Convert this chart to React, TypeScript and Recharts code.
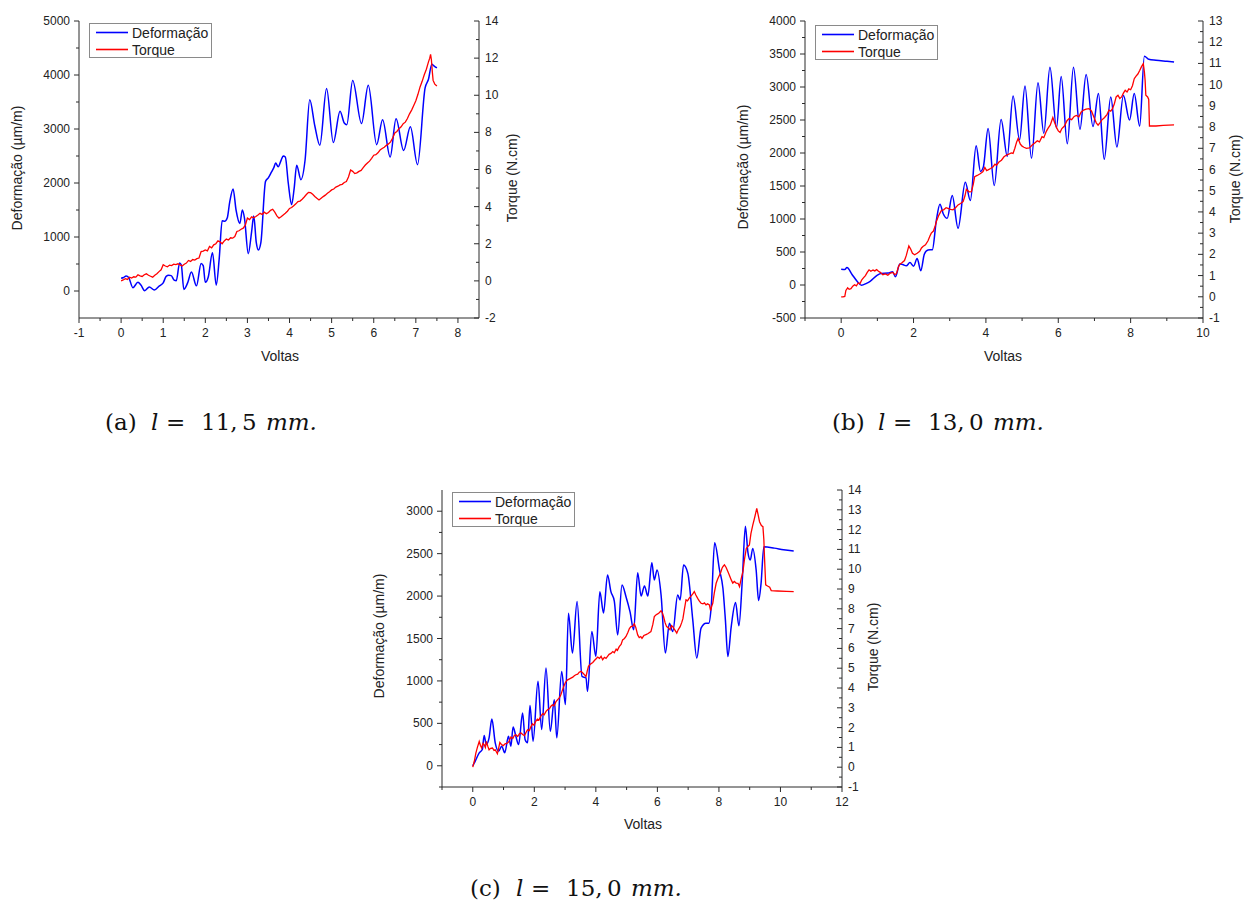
import React from 'react'
import { LineChart, Line, XAxis, YAxis } from 'recharts'

type Pt = [number, number]

const FONT = "'Liberation Sans', Arial, Helvetica, sans-serif"
const SERIF = "'DejaVu Serif', 'Liberation Serif', serif"
const AXIS = '#2a2a2a'
const BLUE = '#0000ff'
const RED = '#ff0000'

// ---------- (a) l = 11,5 mm ----------
const defA: Pt[] = [
  [0, 235], [0.06, 250], [0.12, 280], [0.18, 250], [0.28, 62], [0.4, 160], [0.47, 110], [0.56, 5],
  [0.67, 75], [0.79, 18], [0.91, 95], [1.0, 150], [1.07, 270], [1.13, 290], [1.19, 285], [1.26, 200],
  [1.31, 190], [1.39, 520], [1.43, 480], [1.49, 30], [1.58, 150], [1.67, 350], [1.79, 95], [1.9, 510],
  [1.95, 470], [2.0, 160], [2.07, 260], [2.17, 710], [2.26, 110], [2.33, 600], [2.4, 1300], [2.46, 1290],
  [2.52, 1350], [2.58, 1650], [2.66, 1890], [2.73, 1500], [2.82, 1250], [2.88, 1500], [2.93, 1350],
  [3.02, 690], [3.1, 1100], [3.15, 1390], [3.21, 900], [3.26, 760], [3.32, 900], [3.43, 2030], [3.5, 2100],
  [3.57, 2200], [3.63, 2290], [3.67, 2370], [3.73, 2300], [3.8, 2420], [3.85, 2500], [3.9, 2480],
  [3.97, 2000], [4.05, 1600], [4.11, 1900], [4.17, 2330], [4.27, 2060], [4.37, 2430], [4.48, 3540],
  [4.6, 3060], [4.72, 2700], [4.88, 3750], [5.04, 2750], [5.2, 3330], [5.3, 3110], [5.36, 3080],
  [5.5, 3900], [5.71, 3100], [5.87, 3810], [6.07, 2710], [6.21, 3170], [6.39, 2480], [6.53, 3190],
  [6.71, 2600], [6.87, 3040], [7.04, 2340], [7.22, 3760], [7.3, 3920], [7.38, 4200], [7.43, 4170],
  [7.5, 4130],
]
const torA: Pt[] = [
  [0, 0.0], [0.05, 0.05], [0.1, 0.12], [0.15, 0.08], [0.2, 0.2], [0.25, 0.15], [0.3, 0.22], [0.35, 0.2],
  [0.4, 0.33], [0.45, 0.27], [0.5, 0.24], [0.55, 0.33], [0.6, 0.38], [0.65, 0.3], [0.7, 0.25], [0.75, 0.2],
  [0.8, 0.3], [0.85, 0.38], [0.9, 0.5], [0.95, 0.6], [1.0, 0.87], [1.05, 0.8], [1.1, 0.76], [1.15, 0.85],
  [1.2, 0.82], [1.25, 0.9], [1.3, 0.88], [1.35, 0.92], [1.4, 0.86], [1.45, 0.8], [1.5, 0.9], [1.55, 0.96],
  [1.6, 1.1], [1.65, 1.05], [1.7, 1.15], [1.75, 1.12], [1.8, 1.2], [1.85, 1.23], [1.9, 1.58], [1.95, 1.6],
  [2.0, 1.67], [2.05, 1.62], [2.1, 1.85], [2.15, 1.78], [2.2, 1.94], [2.25, 2.0], [2.3, 2.16], [2.35, 2.1],
  [2.4, 2.0], [2.45, 2.15], [2.5, 2.25], [2.55, 2.2], [2.6, 2.32], [2.65, 2.3], [2.7, 2.39], [2.75, 2.66],
  [2.8, 2.7], [2.85, 2.78], [2.9, 2.84], [2.95, 3.0], [3.0, 3.38], [3.05, 3.3], [3.1, 3.45], [3.15, 3.4],
  [3.2, 3.47], [3.25, 3.55], [3.3, 3.64], [3.35, 3.58], [3.4, 3.7], [3.45, 3.62], [3.5, 3.68], [3.55, 3.8],
  [3.6, 3.86], [3.65, 3.7], [3.7, 3.5], [3.75, 3.38], [3.8, 3.45], [3.85, 3.55], [3.9, 3.64], [3.95, 3.75],
  [4.0, 3.9], [4.05, 3.95], [4.1, 4.05], [4.15, 4.15], [4.2, 4.27], [4.25, 4.3], [4.3, 4.4], [4.35, 4.52],
  [4.4, 4.65], [4.45, 4.77], [4.5, 4.75], [4.55, 4.67], [4.6, 4.55], [4.65, 4.45], [4.7, 4.36], [4.75, 4.45],
  [4.8, 4.54], [4.85, 4.62], [4.9, 4.72], [4.95, 4.8], [5.0, 4.9], [5.05, 4.95], [5.1, 5.05], [5.15, 5.1],
  [5.2, 5.17], [5.25, 5.2], [5.3, 5.3], [5.35, 5.35], [5.4, 5.6], [5.45, 5.97], [5.5, 5.9], [5.55, 5.78],
  [5.6, 5.82], [5.65, 5.9], [5.7, 5.95], [5.75, 6.1], [5.8, 6.24], [5.85, 6.35], [5.9, 6.45], [5.95, 6.6],
  [6.0, 6.77], [6.05, 6.8], [6.1, 6.9], [6.15, 7.05], [6.2, 7.13], [6.25, 7.2], [6.3, 7.3], [6.35, 7.38],
  [6.4, 7.49], [6.45, 7.7], [6.5, 7.97], [6.55, 8.05], [6.6, 8.2], [6.65, 8.3], [6.7, 8.47], [6.75, 8.55],
  [6.8, 8.75], [6.85, 9.0], [6.9, 9.2], [6.95, 9.45], [7.0, 9.7], [7.05, 10.05], [7.1, 10.45], [7.15, 10.75],
  [7.2, 11.1], [7.25, 11.4], [7.3, 11.8], [7.33, 12.0], [7.35, 12.2], [7.37, 11.9], [7.39, 11.3],
  [7.41, 10.8], [7.45, 10.6], [7.5, 10.5],
]
const voltasMajorA = [-1, 0, 1, 2, 3, 4, 5, 6, 7, 8]
const voltasMinorA = [-0.5, 0.5, 1.5, 2.5, 3.5, 4.5, 5.5, 6.5, 7.5]
const defMajorA = [0, 1000, 2000, 3000, 4000, 5000]
const defMinorA = [500, 1500, 2500, 3500, 4500]
const torMajorA = [-2, 0, 2, 4, 6, 8, 10, 12, 14]
const torMinorA = [-1, 1, 3, 5, 7, 9, 11, 13]

// ---------- (b) l = 13,0 mm ----------
const defB: Pt[] = [
  [0, 240], [0.1, 235], [0.16, 265], [0.3, 160], [0.45, 50], [0.56, -5], [0.7, 25], [0.8, 55], [1.0, 150],
  [1.1, 175], [1.3, 180], [1.42, 200], [1.5, 125], [1.62, 320], [1.7, 310], [1.8, 290], [1.9, 340],
  [2.0, 285], [2.1, 400], [2.2, 215], [2.3, 470], [2.4, 530], [2.52, 535], [2.63, 980], [2.73, 1225],
  [2.82, 1080], [2.93, 1010], [3.07, 1355], [3.23, 860], [3.43, 1555], [3.57, 1280], [3.73, 2110],
  [3.85, 1720], [3.93, 1790], [4.06, 2373], [4.23, 1506], [4.42, 2508], [4.59, 1950], [4.75, 2862],
  [4.93, 2200], [5.08, 3017], [5.26, 1920], [5.44, 3064], [5.6, 2300], [5.77, 3300], [5.95, 2380],
  [6.08, 3158], [6.25, 2140], [6.42, 3300], [6.6, 2358], [6.77, 3190], [6.96, 2400], [7.11, 2902],
  [7.27, 1904], [7.45, 2850], [7.62, 2090], [7.8, 2870], [7.97, 2499], [8.1, 2900], [8.25, 2408],
  [8.38, 3466], [8.5, 3420], [8.7, 3405], [9.0, 3390], [9.2, 3380],
]
const torB: Pt[] = [
  [0, 0], [0.05, 0], [0.1, 0.02], [0.13, 0.3], [0.18, 0.42], [0.22, 0.35], [0.27, 0.38], [0.32, 0.5],
  [0.37, 0.57], [0.42, 0.52], [0.47, 0.65], [0.52, 0.62], [0.57, 0.8], [0.62, 0.9], [0.67, 1.0],
  [0.72, 1.15], [0.77, 1.27], [0.82, 1.2], [0.88, 1.26], [0.93, 1.22], [0.98, 1.28], [1.03, 1.2],
  [1.08, 1.15], [1.15, 1.04], [1.22, 1.08], [1.29, 1.02], [1.36, 1.12], [1.43, 1.15], [1.48, 1.04],
  [1.53, 1.1], [1.58, 1.4], [1.62, 1.54], [1.68, 1.6], [1.75, 1.71], [1.8, 1.95], [1.87, 2.4], [1.92, 2.25],
  [1.97, 2.05], [2.03, 1.98], [2.1, 2.05], [2.17, 2.14], [2.22, 2.3], [2.26, 2.37], [2.33, 2.45], [2.4, 2.64],
  [2.45, 2.85], [2.49, 3.0], [2.55, 3.1], [2.6, 3.35], [2.63, 3.55], [2.7, 3.85], [2.77, 4.07], [2.83, 4.1],
  [2.9, 4.2], [2.95, 4.17], [3.02, 4.12], [3.09, 4.1], [3.16, 4.2], [3.23, 4.33], [3.3, 4.4], [3.37, 4.49],
  [3.42, 4.75], [3.46, 5.07], [3.53, 4.95], [3.6, 4.96], [3.65, 5.3], [3.69, 5.66], [3.76, 5.72],
  [3.83, 5.79], [3.88, 5.85], [3.92, 5.9], [3.97, 6.1], [4.02, 5.95], [4.06, 5.98], [4.13, 6.05],
  [4.2, 6.13], [4.25, 6.25], [4.29, 6.2], [4.36, 6.35], [4.43, 6.44], [4.5, 6.6], [4.57, 6.68],
  [4.63, 6.72], [4.7, 6.78], [4.75, 6.76], [4.8, 7.0], [4.85, 7.3], [4.89, 7.46], [4.95, 7.2], [5.0, 7.1],
  [5.05, 7.05], [5.12, 7.0], [5.2, 7.02], [5.28, 7.15], [5.35, 7.25], [5.42, 7.35], [5.48, 7.3],
  [5.55, 7.55], [5.6, 7.5], [5.67, 7.8], [5.72, 7.95], [5.78, 8.1], [5.85, 8.45], [5.9, 8.2], [5.96, 7.95],
  [6.0, 7.82], [6.05, 7.75], [6.1, 7.93], [6.17, 8.05], [6.24, 8.3], [6.3, 8.4], [6.37, 8.35], [6.44, 8.5],
  [6.5, 8.55], [6.57, 8.48], [6.63, 8.7], [6.7, 8.8], [6.77, 8.85], [6.85, 8.87], [6.92, 8.75], [7.0, 8.4],
  [7.05, 8.2], [7.1, 8.09], [7.15, 8.2], [7.2, 8.33], [7.28, 8.45], [7.35, 8.6], [7.4, 8.8], [7.45, 8.75],
  [7.5, 8.87], [7.55, 9.1], [7.6, 9.42], [7.65, 9.5], [7.7, 9.35], [7.75, 9.42], [7.8, 9.6], [7.85, 9.73],
  [7.9, 9.65], [7.95, 9.8], [8.0, 9.76], [8.05, 9.95], [8.1, 10.28], [8.15, 10.4], [8.2, 10.5],
  [8.25, 10.67], [8.3, 10.85], [8.35, 10.99], [8.38, 10.6], [8.4, 10.2], [8.42, 9.5], [8.47, 9.42],
  [8.5, 9.3], [8.52, 8.05], [8.7, 8.05], [8.9, 8.08], [9.2, 8.1],
]
const voltasMajorB = [0, 2, 4, 6, 8, 10]
const voltasMinorB = [-1, 1, 3, 5, 7, 9]
const defMajorB = [-500, 0, 500, 1000, 1500, 2000, 2500, 3000, 3500, 4000]
const defMinorB = [-250, 250, 750, 1250, 1750, 2250, 2750, 3250, 3750]
const torMajorB = [-1, 0, 1, 2, 3, 4, 5, 6, 7, 8, 9, 10, 11, 12, 13]
const torMinorB = [-0.5, 0.5, 1.5, 2.5, 3.5, 4.5, 5.5, 6.5, 7.5, 8.5, 9.5, 10.5, 11.5, 12.5]

// ---------- (c) l = 15,0 mm ----------
const defC: Pt[] = [
  [0, 0], [0.08, 55], [0.21, 153], [0.31, 192], [0.37, 356], [0.44, 250], [0.53, 329], [0.62, 552],
  [0.73, 270], [0.84, 172], [0.94, 231], [1.04, 153], [1.16, 349], [1.24, 231], [1.31, 458], [1.4, 349],
  [1.49, 250], [1.62, 623], [1.7, 309], [1.78, 270], [1.86, 709], [1.96, 290], [2.12, 995], [2.24, 427],
  [2.38, 1152], [2.52, 407], [2.65, 779], [2.73, 329], [2.89, 1112], [3.01, 721], [3.11, 1798],
  [3.24, 1328], [3.39, 1935], [3.55, 1054], [3.68, 1034], [3.73, 877], [3.87, 1582], [4.0, 1289],
  [4.13, 2050], [4.25, 1800], [4.38, 2248], [4.49, 2052], [4.6, 1940], [4.71, 1543], [4.85, 2130],
  [4.98, 1993], [5.11, 1817], [5.23, 1602], [5.36, 2276], [5.47, 2001], [5.58, 2119], [5.69, 2001],
  [5.82, 2393], [5.9, 2190], [5.99, 2307], [6.12, 2013], [6.26, 1328], [6.39, 1680], [6.5, 1582],
  [6.66, 2013], [6.74, 1955], [6.85, 2366], [6.99, 2268], [7.15, 1720], [7.28, 1269], [7.42, 1622],
  [7.58, 1680], [7.67, 1680], [7.75, 1876], [7.86, 2628], [8.02, 2307], [8.13, 2092], [8.21, 1720],
  [8.29, 1289], [8.4, 1641], [8.54, 1923], [8.65, 1649], [8.76, 2190], [8.86, 2824], [8.94, 2522],
  [9.02, 2425], [9.1, 2562], [9.21, 2307], [9.29, 1947], [9.37, 2150], [9.46, 2581], [9.8, 2565],
  [10.1, 2545], [10.43, 2530],
]
const torC: Pt[] = [
  [0, 0], [0.05, 0.3], [0.1, 0.71], [0.15, 1.0], [0.21, 1.3], [0.25, 1.1], [0.29, 0.97], [0.33, 1.2],
  [0.37, 1.14], [0.41, 1.0], [0.44, 1.3], [0.49, 1.05], [0.53, 0.88], [0.58, 0.95], [0.64, 0.97],
  [0.69, 0.85], [0.73, 0.88], [0.8, 0.68], [0.84, 0.95], [0.88, 1.25], [0.93, 1.15], [0.99, 1.09],
  [1.05, 1.18], [1.13, 1.22], [1.18, 1.3], [1.24, 1.52], [1.3, 1.45], [1.35, 1.6], [1.4, 1.64],
  [1.46, 1.55], [1.52, 1.7], [1.57, 1.73], [1.62, 1.65], [1.68, 1.6], [1.73, 1.75], [1.78, 1.89],
  [1.84, 1.85], [1.89, 2.05], [1.94, 2.19], [1.99, 2.12], [2.04, 2.3], [2.1, 2.43], [2.15, 2.38],
  [2.2, 2.55], [2.27, 2.7], [2.32, 2.65], [2.38, 2.82], [2.43, 2.9], [2.49, 2.95], [2.54, 3.08],
  [2.59, 3.15], [2.64, 3.1], [2.7, 3.3], [2.76, 3.41], [2.81, 3.5], [2.86, 3.65], [2.9, 3.83], [2.95, 4.05],
  [3.01, 4.28], [3.07, 4.4], [3.13, 4.45], [3.19, 4.5], [3.25, 4.55], [3.3, 4.62], [3.35, 4.67],
  [3.41, 4.7], [3.46, 4.8], [3.52, 4.84], [3.56, 4.78], [3.6, 4.72], [3.64, 4.65], [3.68, 4.58],
  [3.72, 4.85], [3.76, 5.09], [3.82, 5.2], [3.9, 5.29], [3.96, 5.4], [4.01, 5.48], [4.06, 5.56],
  [4.12, 5.5], [4.17, 5.6], [4.22, 5.43], [4.28, 5.55], [4.33, 5.5], [4.38, 5.6], [4.43, 5.7], [4.49, 5.75],
  [4.55, 5.84], [4.6, 5.78], [4.66, 5.96], [4.7, 5.9], [4.76, 6.09], [4.82, 6.2], [4.87, 6.43], [4.93, 6.5],
  [4.98, 6.6], [5.04, 6.8], [5.09, 7.0], [5.14, 7.1], [5.2, 7.12], [5.25, 7.25], [5.3, 7.05], [5.36, 6.68],
  [5.41, 6.55], [5.46, 6.6], [5.5, 6.51], [5.56, 6.65], [5.63, 6.7], [5.7, 6.75], [5.79, 6.85], [5.85, 7.2],
  [5.9, 7.61], [5.96, 7.7], [6.01, 7.74], [6.06, 7.8], [6.12, 7.9], [6.16, 7.8], [6.2, 7.61], [6.25, 7.3],
  [6.3, 7.1], [6.35, 7.05], [6.41, 6.94], [6.46, 7.15], [6.5, 7.1], [6.56, 6.95], [6.63, 6.77],
  [6.68, 6.95], [6.74, 7.1], [6.79, 7.3], [6.83, 7.5], [6.88, 8.0], [6.93, 8.45], [6.98, 8.4], [7.04, 8.55],
  [7.1, 8.65], [7.15, 8.75], [7.2, 8.87], [7.25, 8.7], [7.31, 8.53], [7.36, 8.4], [7.42, 8.28], [7.48, 8.25],
  [7.53, 8.3], [7.58, 8.2], [7.63, 8.25], [7.69, 8.2], [7.73, 7.91], [7.77, 8.15], [7.8, 8.28], [7.85, 8.8],
  [7.91, 9.29], [7.96, 9.5], [8.02, 9.71], [8.06, 9.85], [8.1, 10.05], [8.14, 10.15], [8.18, 10.22],
  [8.23, 10.1], [8.29, 9.88], [8.34, 9.7], [8.4, 9.46], [8.45, 9.3], [8.5, 9.38], [8.56, 9.3], [8.62, 9.29],
  [8.67, 9.12], [8.72, 9.5], [8.78, 9.88], [8.83, 10.5], [8.89, 11.05], [8.94, 11.15], [8.99, 11.22],
  [9.04, 11.8], [9.1, 12.23], [9.16, 12.6], [9.23, 13.07], [9.28, 12.7], [9.32, 12.4], [9.38, 12.2],
  [9.43, 12.15], [9.46, 11.5], [9.48, 10.64], [9.52, 9.21], [9.58, 9.15], [9.65, 9.09], [9.7, 8.92],
  [9.9, 8.9], [10.2, 8.88], [10.43, 8.87],
]
const voltasMajorC = [0, 2, 4, 6, 8, 10, 12]
const voltasMinorC = [-1, 1, 3, 5, 7, 9, 11]
const defMajorC = [0, 500, 1000, 1500, 2000, 2500, 3000]
const defMinorC = [-250, 250, 750, 1250, 1750, 2250, 2750]
const torMajorC = [-1, 0, 1, 2, 3, 4, 5, 6, 7, 8, 9, 10, 11, 12, 13, 14]
const torMinorC = [-0.5, 0.5, 1.5, 2.5, 3.5, 4.5, 5.5, 6.5, 7.5, 8.5, 9.5, 10.5, 11.5, 12.5, 13.5]

const toRows = (pts: Pt[]) => pts.map(([x, y]) => ({ x, y }))
const merge = (a: number[], b: number[]) => [...a, ...b].sort((p, q) => p - q)

const tickText = { fontFamily: FONT, fontSize: 12, fill: '#222' }

function axisTick(side: 'left' | 'right' | 'bottom', major: number[]) {
  return (props: any) => {
    const { x, y, payload } = props
    const v = payload.value
    const isMajor = major.some((m) => Math.abs(m - v) < 1e-9)
    const len = isMajor ? 5 : 3
    if (side === 'bottom') {
      return (
        <g>
          <line x1={x} y1={y} x2={x} y2={y + len} stroke={AXIS} />
          {isMajor && (
            <text x={x} y={y + 15} textAnchor="middle" dominantBaseline="central" {...tickText}>
              {v}
            </text>
          )}
        </g>
      )
    }
    if (side === 'left') {
      return (
        <g>
          <line x1={x} y1={y} x2={x - len} y2={y} stroke={AXIS} />
          {isMajor && (
            <text x={x - 9} y={y} textAnchor="end" dominantBaseline="central" {...tickText}>
              {v}
            </text>
          )}
        </g>
      )
    }
    // right axis: ticks point inward
    return (
      <g>
        <line x1={x} y1={y} x2={x - len} y2={y} stroke={AXIS} />
        {isMajor && (
          <text x={x + 6} y={y} textAnchor="start" dominantBaseline="central" {...tickText}>
            {v}
          </text>
        )}
      </g>
    )
  }
}

type PanelProps = {
  plot: { left: number; top: number; w: number; h: number }
  xDomain: [number, number]
  xMajor: number[]
  xMinor: number[]
  lDomain: [number, number]
  lMajor: number[]
  lMinor: number[]
  rDomain: [number, number]
  rMajor: number[]
  rMinor: number[]
  def: Pt[]
  tor: Pt[]
  leftTitle: [number, number]
  rightTitle: [number, number]
  xTitle: [number, number]
  legend: [number, number]
}

const LW = 60
const RW = 45
const XH = 30
const TOP = 10

function Title({ text, at, rotate }: { text: string; at: [number, number]; rotate?: boolean }) {
  return (
    <div
      style={{
        position: 'absolute',
        left: at[0],
        top: at[1],
        transform: `translate(-50%, -50%)${rotate ? ' rotate(-90deg)' : ''}`,
        whiteSpace: 'nowrap',
        fontFamily: FONT,
        fontSize: 14,
        color: '#222',
        lineHeight: '16px',
      }}
    >
      {text}
    </div>
  )
}

function LegendBox({ at }: { at: [number, number] }) {
  return (
    <div
      style={{
        position: 'absolute',
        left: at[0],
        top: at[1],
        width: 123,
        height: 35,
        border: '1px solid #8a8a8a',
        boxSizing: 'border-box',
        background: '#fff',
      }}
    >
      <svg width={121} height={33} style={{ display: 'block' }}>
        <line x1={6} x2={38} y1={8.5} y2={8.5} stroke={BLUE} strokeWidth={1.6} />
        <line x1={6} x2={38} y1={25.5} y2={25.5} stroke={RED} strokeWidth={1.6} />
        <text x={42} y={9} dominantBaseline="central" fontFamily={FONT} fontSize={14} fill="#222">
          Deformação
        </text>
        <text x={42} y={26} dominantBaseline="central" fontFamily={FONT} fontSize={14} fill="#222">
          Torque
        </text>
      </svg>
    </div>
  )
}

function Panel(p: PanelProps) {
  const width = LW + p.plot.w + RW
  const height = TOP + p.plot.h + XH
  return (
    <>
      <div style={{ position: 'absolute', left: p.plot.left - LW, top: p.plot.top - TOP }}>
        <LineChart width={width} height={height} margin={{ top: TOP, right: 0, bottom: 0, left: 0 }}>
          <XAxis
            dataKey="x"
            type="number"
            domain={p.xDomain}
            ticks={merge(p.xMajor, p.xMinor)}
            interval={0}
            allowDataOverflow
            height={XH}
            tickSize={0}
            tickMargin={0}
            tickLine={false}
            axisLine={{ stroke: AXIS }}
            tick={axisTick('bottom', p.xMajor)}
          />
          <YAxis
            yAxisId="l"
            orientation="left"
            type="number"
            domain={p.lDomain}
            ticks={merge(p.lMajor, p.lMinor)}
            interval={0}
            allowDataOverflow
            width={LW}
            tickSize={0}
            tickMargin={0}
            tickLine={false}
            axisLine={{ stroke: AXIS }}
            tick={axisTick('left', p.lMajor)}
          />
          <YAxis
            yAxisId="r"
            orientation="right"
            type="number"
            domain={p.rDomain}
            ticks={merge(p.rMajor, p.rMinor)}
            interval={0}
            allowDataOverflow
            width={RW}
            tickSize={0}
            tickMargin={0}
            tickLine={false}
            axisLine={{ stroke: AXIS }}
            tick={axisTick('right', p.rMajor)}
          />
          <Line
            data={toRows(p.def)}
            dataKey="y"
            yAxisId="l"
            type="monotone"
            stroke={BLUE}
            strokeWidth={1.5}
            dot={false}
            activeDot={false}
            isAnimationActive={false}
          />
          <Line
            data={toRows(p.tor)}
            dataKey="y"
            yAxisId="r"
            type="linear"
            stroke={RED}
            strokeWidth={1.3}
            dot={false}
            activeDot={false}
            isAnimationActive={false}
          />
        </LineChart>
      </div>
      <Title text="Deformação (µm/m)" at={p.leftTitle} rotate />
      <Title text="Torque (N.cm)" at={p.rightTitle} rotate />
      <Title text="Voltas" at={p.xTitle} />
      <LegendBox at={p.legend} />
    </>
  )
}

function Caption({ x, y, tag, whole, dec }: { x: number; y: number; tag: string; whole: string; dec: string }) {
  const piece = (dx: number, text: string, italic = false) => (
    <span
      style={{
        position: 'absolute',
        left: x + dx,
        top: y - 14,
        lineHeight: '28px',
        fontFamily: SERIF,
        fontSize: 23,
        fontStyle: italic ? 'italic' : 'normal',
        color: '#111',
        whiteSpace: 'nowrap',
      }}
    >
      {text}
    </span>
  )
  return (
    <>
      {piece(0, `(${tag})`)}
      {piece(46, 'l', true)}
      {piece(61, '=')}
      {piece(96, `${whole},`)}
      {piece(137, dec)}
      {piece(161, 'mm.', true)}
    </>
  )
}

export default function App() {
  return (
    <div style={{ position: 'absolute', left: 0, top: 0, width: 1245, height: 904, background: '#fff' }}>
      <Panel
        plot={{ left: 79, top: 21, w: 400, h: 297 }}
        xDomain={[-1, 8.5]}
        xMajor={voltasMajorA}
        xMinor={voltasMinorA}
        lDomain={[-500, 5000]}
        lMajor={defMajorA}
        lMinor={defMinorA}
        rDomain={[-2, 14]}
        rMajor={torMajorA}
        rMinor={torMinorA}
        def={defA}
        tor={torA}
        leftTitle={[17, 168]}
        rightTitle={[512, 178]}
        xTitle={[280, 356]}
        legend={[89, 23]}
      />
      <Panel
        plot={{ left: 805, top: 21, w: 398, h: 297 }}
        xDomain={[-1, 10]}
        xMajor={voltasMajorB}
        xMinor={voltasMinorB}
        lDomain={[-500, 4000]}
        lMajor={defMajorB}
        lMinor={defMinorB}
        rDomain={[-1, 13]}
        rMajor={torMajorB}
        rMinor={torMinorB}
        def={defB}
        tor={torB}
        leftTitle={[743, 167]}
        rightTitle={[1235, 179]}
        xTitle={[1003, 356]}
        legend={[815, 25]}
      />
      <Panel
        plot={{ left: 442, top: 490, w: 400, h: 297 }}
        xDomain={[-1, 12]}
        xMajor={voltasMajorC}
        xMinor={voltasMinorC}
        lDomain={[-250, 3250]}
        lMajor={defMajorC}
        lMinor={defMinorC}
        rDomain={[-1, 14]}
        rMajor={torMajorC}
        rMinor={torMinorC}
        def={defC}
        tor={torC}
        leftTitle={[379, 636]}
        rightTitle={[873, 647]}
        xTitle={[643, 824]}
        legend={[452, 492]}
      />
      <Caption x={105} y={422} tag="a" whole="11" dec="5" />
      <Caption x={832} y={422} tag="b" whole="13" dec="0" />
      <Caption x={470} y={888} tag="c" whole="15" dec="0" />
    </div>
  )
}
